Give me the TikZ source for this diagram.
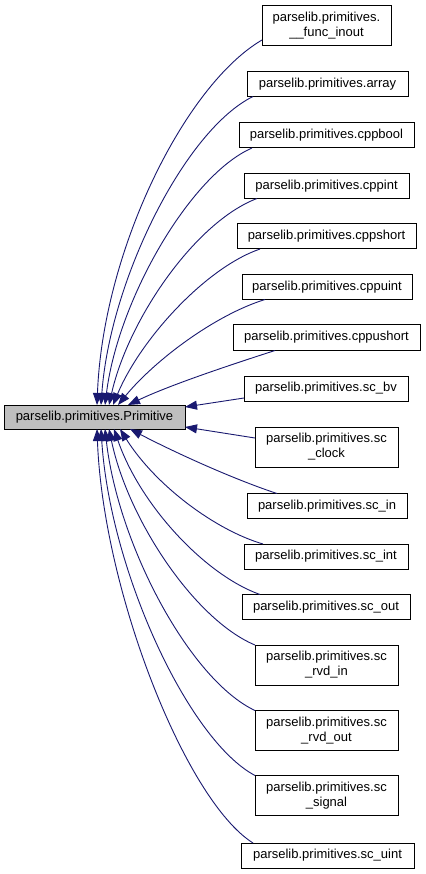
\documentclass[tikz,border=0pt]{standalone}
\usepackage{fontspec}
\setmainfont{Liberation Sans}
\usetikzlibrary{arrows.meta}
\definecolor{edgeblue}{HTML}{191970}
\definecolor{maingray}{HTML}{BFBFBF}
\begin{document}
\begin{tikzpicture}[x=1pt,y=-1pt,
  box/.style={draw=black,line width=1pt,outer sep=0pt,inner sep=0pt,align=center,
    font=\fontsize{13}{15}\selectfont,minimum height=25pt},
  dbox/.style={box,minimum height=40pt},
  edge/.style={draw=edgeblue,line width=0.9pt,-{Triangle[length=12pt,width=9pt]}}]
\useasboundingbox (0,0) rectangle (425,874);
\fill[white] (0,0) rectangle (425,874);

\node[box,fill=maingray,minimum width=181pt,minimum height=24pt] (main) at (94.5,417) {parselib.primitives.Primitive};

\node[dbox,minimum width=129pt] (f) at (326.5,26) {parselib.primitives.\\\_\_func\_inout};
\node[box,minimum width=161pt] (arr) at (327.5,84) {parselib.primitives.array};
\node[box,minimum width=175pt] (cb) at (326.5,135.5) {parselib.primitives.cppbool};
\node[box,minimum width=165pt] (ci) at (326.5,186) {parselib.primitives.cppint};
\node[box,minimum width=179pt] (cs) at (326.5,236.5) {parselib.primitives.cppshort};
\node[box,minimum width=170pt] (cu) at (327,287) {parselib.primitives.cppuint};
\node[box,minimum width=187pt,minimum height=26pt] (cus) at (326.5,337.5) {parselib.primitives.cppushort};
\node[box,minimum width=164pt] (bv) at (326,388.5) {parselib.primitives.sc\_bv};
\node[dbox,minimum width=143pt] (clk) at (326.5,447) {parselib.primitives.sc\\\_clock};
\node[box,minimum width=160pt] (in) at (327,506) {parselib.primitives.sc\_in};
\node[box,minimum width=164pt] (int) at (326,556.5) {parselib.primitives.sc\_int};
\node[box,minimum width=168pt] (out) at (326,607) {parselib.primitives.sc\_out};
\node[dbox,minimum width=143pt] (rin) at (326.5,665) {parselib.primitives.sc\\\_rvd\_in};
\node[dbox,minimum width=143pt] (rout) at (326.5,730.5) {parselib.primitives.sc\\\_rvd\_out};
\node[dbox,minimum width=143pt] (sig) at (326.5,795.5) {parselib.primitives.sc\\\_signal};
\node[box,minimum width=173pt] (ui) at (327.5,855.5) {parselib.primitives.sc\_uint};

% edges above
\draw[edge] ([yshift=6pt]f.south west) .. controls (185,85) and (103,250) .. ([xshift=93pt]main.north west);
\draw[edge] ([xshift=6pt]arr.south west) .. controls (185,130) and (110,280) .. ([xshift=97pt]main.north west);
\draw[edge] ([xshift=13pt]cb.south west) .. controls (190,175) and (118,300) .. ([xshift=101pt]main.north west);
\draw[edge] ([xshift=13pt]ci.south west) .. controls (195,222) and (128,320) .. ([xshift=105pt]main.north west);
\draw[edge] ([xshift=23pt]cs.south west) .. controls (205,268) and (140,340) .. ([xshift=109pt]main.north west);
\draw[edge] ([xshift=23pt]cu.south west) .. controls (215,315) and (155,360) .. ([xshift=114pt]main.north west);
\draw[edge] ([xshift=42pt]cus.south west) .. controls (230,365) and (170,385) .. ([xshift=124pt]main.north west);
\draw[edge] ([yshift=3pt]bv.south west) -- ([yshift=-2pt]main.north east);
\draw[edge] ([yshift=-11pt]clk.north west) -- ([yshift=2pt]main.south east);
% edges below
\draw[edge] ([xshift=30pt]in.north west) .. controls (230,478) and (170,450) .. ([xshift=126pt]main.south west);
\draw[edge] ([xshift=19pt]int.north west) .. controls (215,530) and (155,485) .. ([xshift=116pt]main.south west);
\draw[edge] ([xshift=18pt]out.north west) .. controls (205,575) and (140,505) .. ([xshift=110pt]main.south west);
\draw[edge] (rin.north west) .. controls (195,620) and (128,520) .. ([xshift=105pt]main.south west);
\draw[edge] (rout.north west) .. controls (190,680) and (118,545) .. ([xshift=101pt]main.south west);
\draw[edge] (sig.north west) .. controls (188,740) and (110,570) .. ([xshift=97pt]main.south west);
\draw[edge] ([xshift=12pt]ui.north west) .. controls (185,800) and (103,590) .. ([xshift=93pt]main.south west);
\end{tikzpicture}
\end{document}
